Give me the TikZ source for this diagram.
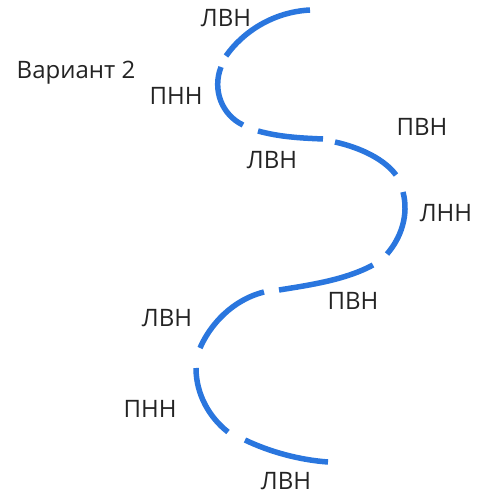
\documentclass[tikz,border=0pt]{standalone}
\usepackage{fontspec}
\setmainfont{Open Sans}
\definecolor{wave}{RGB}{42,118,222}
\definecolor{ink}{RGB}{35,35,35}

\begin{document}
\begin{tikzpicture}[x=1pt,y=-1pt,
	seg/.style={wave,line width=5.5pt},
	lbl/.style={text=ink,font=\fontsize{24}{24}\selectfont,inner sep=0pt}]
			\useasboundingbox (0,0) rectangle (482,500);
			\node[lbl] (title)at(76,73) {Вариант 2};
			\node[lbl] (l1)at(226,18) {ЛВН};
			\node[lbl] (l2)at(176,96) {ПНН};
			\node[lbl] (l3)at(272,160) {ЛВН};
			\node[lbl] (l4)at(422,127) {ПВН};
			\node[lbl] (l5)at(446,213) {ЛНН};
			\node[lbl] (l6)at(353,301) {ПВН};
			\node[lbl] (l7)at(167,318) {ЛВН};
			\node[lbl] (l8)at(150,409) {ПНН};
			\node[lbl] (l9)at(286,481) {ЛВН};
			\coordinate (s1)at(310,10); \coordinate (e1)at(226,56);
			\coordinate (s2)at(221,67); \coordinate (e2)at(243,125);
			\coordinate (s3)at(258,131); \coordinate (e3)at(323,139);
			\coordinate (s4)at(335,142); \coordinate (e4)at(396,175);
			\coordinate (s5)at(403,192); \coordinate (e5)at(387,254);
			\coordinate (s6)at(373,265); \coordinate (e6)at(279,290);
			\coordinate (s7)at(264,292); \coordinate (e7)at(200,348);
			\coordinate (s8)at(196,368); \coordinate (e8)at(228,432);
			\coordinate (s9)at(245,440); \coordinate (e9)at(328,462);
			\draw[seg] (s1) .. controls (272,12) and (242,33) .. (e1);
			\draw[seg] (s2) .. controls (212,90) and (222,115) .. (e2);
			\draw[seg] (s3) .. controls (280,137) and (300,138) .. (e3);
			\draw[seg] (s4) .. controls (362,148) and (385,160) .. (e4);
			\draw[seg] (s5) .. controls (409,215) and (401,238) .. (e5);
			\draw[seg] (s6) .. controls (345,280) and (310,285) .. (e6);
			\draw[seg] (s7) .. controls (232,300) and (210,325) .. (e7);
			\draw[seg] (s8) .. controls (196,395) and (210,418) .. (e8);
			\draw[seg] (s9) .. controls (270,452) and (300,460) .. (e9);
\end{tikzpicture}
\end{document}
